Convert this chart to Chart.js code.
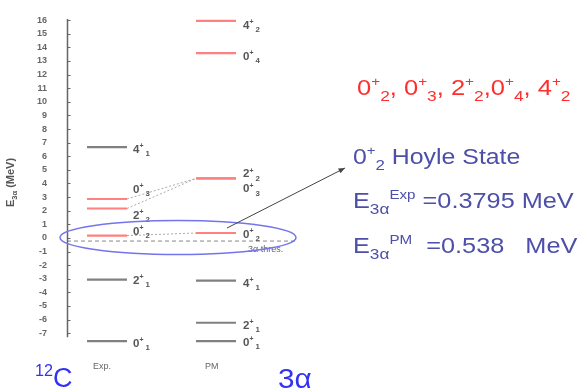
<!DOCTYPE html>
<html>
<head>
<meta charset="utf-8">
<script src="https://cdn.jsdelivr.net/npm/chart.js@4.4.0/dist/chart.umd.min.js"></script>
<style>
  html, body { margin: 0; padding: 0; background: #fff; }
</style>
</head>
<body>
<canvas id="levels" width="581" height="392"></canvas>
<script>
// Energies (MeV)
const expEnergies = [6.67, 2.86, 2.16, 0.17, -3.06, -7.58];
const expSpins = ["4", "0", "2", "0", "2", "0"];
const expIndex = ["1", "3", "2", "2", "1", "1"];
const expMarked = [false, true, true, true, false, false];

const pmEnergies = [15.95, 13.58, 4.37, 4.37, 0.36, -3.14, -6.23, -7.58];
const pmSpins = ["4", "0", "2", "0", "0", "4", "2", "0"];
const pmIndex = ["2", "4", "2", "3", "2", "1", "1", "1"];
const pmMarked = [true, true, true, true, true, false, false, false];

// exp level -> pm level joined by dotted lines
const links = [[1, 3], [2, 2], [3, 4]];

const threshold = -0.23;
const yTicks = [-7, -6, -5, -4, -3, -2, -1, 0, 1, 2, 3, 4, 5, 6, 7, 8, 9, 10, 11, 12, 13, 14, 15, 16];

// layout (x units = px right of the axis)
const EXP_X = [20, 60];
const PM_X = [129, 169];
const expLabelShift = [2, -10, 6, -5, 0, 2];
const pmLabelShift = [4, 3, -5, 10, 1, 2, 2, 1];

const RED = "#ff8080";
const GRAY = "#808080";
const BLUE = "#4d4fa8";
const FONT = "'Liberation Sans', Arial, sans-serif";

function levelSet(e, xr, marked) {
    return {
        data: [{ x: xr[0], y: e }, { x: xr[1], y: e }],
        borderColor: marked ? RED : GRAY,
        borderWidth: 2.2,
        pointRadius: 0,
        fill: false
    };
}

const datasets = [];

expEnergies.forEach((e, i) => datasets.push(levelSet(e, EXP_X, expMarked[i])));
pmEnergies.forEach((e, i) => datasets.push(levelSet(e, PM_X, pmMarked[i])));

links.forEach(l => {
    datasets.push({
        data: [{ x: EXP_X[1], y: expEnergies[l[0]] }, { x: PM_X[0], y: pmEnergies[l[1]] }],
        borderColor: "#aaaaaa",
        borderWidth: 1,
        borderDash: [2, 2],
        pointRadius: 0
    });
});

datasets.push({
    data: [{ x: 0, y: threshold }, { x: 230, y: threshold }],
    borderColor: "#888888",
    borderWidth: 1,
    borderDash: [4, 3],
    pointRadius: 0
});

// text with super/subscripts: parts = [[text, "n"|"sup"|"sub"], ...]
function rich(ctx, parts, x, y, size, color, sx) {
    ctx.save();
    ctx.translate(x, y);
    ctx.scale(sx || 1, 1);
    ctx.fillStyle = color;
    ctx.textBaseline = "alphabetic";
    ctx.textAlign = "left";
    let cx = 0;
    parts.forEach(p => {
        let s = size, dy = 0;
        if (p[1] === "sup") { s = size * 0.6; dy = -size * 0.42; }
        if (p[1] === "sub") { s = size * 0.68; dy = size * 0.28; }
        ctx.font = (p[2] || "") + " " + s + "px " + FONT;
        ctx.fillText(p[0], cx, dy);
        cx += ctx.measureText(p[0]).width;
    });
    ctx.restore();
}

const drawing = {
    id: "drawing",
    afterDatasetsDraw(chart) {
        const ctx = chart.ctx;
        const xs = chart.scales.x, ys = chart.scales.y;
        const px = v => xs.getPixelForValue(v);
        const py = v => ys.getPixelForValue(v);

        // axis line and inner tick marks
        const ax = px(0) + 0.5;
        ctx.save();
        ctx.strokeStyle = "#666";
        ctx.lineWidth = 1.5;
        ctx.beginPath();
        ctx.moveTo(ax, py(16) - 1);
        ctx.lineTo(ax, py(-7.3));
        ctx.stroke();
        ctx.lineWidth = 1;
        yTicks.forEach(t => {
            ctx.beginPath();
            ctx.moveTo(ax, Math.round(py(t)) + 0.5);
            ctx.lineTo(ax + 3, Math.round(py(t)) + 0.5);
            ctx.stroke();
        });
        ctx.restore();

        // axis title
        ctx.save();
        ctx.translate(14, 207);
        ctx.rotate(-Math.PI / 2);
        rich(ctx, [["E", "n", "bold"], ["3\u03b1", "sub", "bold"], [" (MeV)", "n", "bold"]], 0, 0, 11, "#555");
        ctx.restore();

        // level labels
        const lab = (e, spin, idx, xr, shift) => {
            rich(ctx, [[spin, "n", "bold"], ["+", "sup", "bold"], [" " + idx, "sub", "bold"]],
                px(xr), py(e) + shift + 4, 11.5, "#555");
        };
        expEnergies.forEach((e, i) => lab(e, expSpins[i], expIndex[i], 66, expLabelShift[i]));
        pmEnergies.forEach((e, i) => lab(e, pmSpins[i], pmIndex[i], 176, pmLabelShift[i]));

        // threshold label
        ctx.save();
        ctx.font = "9px " + FONT;
        ctx.fillStyle = "#666";
        ctx.fillText("3\u03b1 thres.", px(181), py(threshold) + 11);
        ctx.restore();

        // ellipse round the Hoyle states
        ctx.save();
        ctx.strokeStyle = "#7474ee";
        ctx.lineWidth = 1.5;
        ctx.beginPath();
        ctx.ellipse(px(111), py(0) - 0.5, 118, 17, 0, 0, Math.PI * 2);
        ctx.stroke();
        ctx.restore();

        // arrow to the annotation
        const x0 = px(160), y0 = py(pmEnergies[4]) - 5, x1 = 345, y1 = 168;
        const a = Math.atan2(y1 - y0, x1 - x0);
        ctx.save();
        ctx.strokeStyle = "#444";
        ctx.fillStyle = "#444";
        ctx.lineWidth = 1;
        ctx.beginPath();
        ctx.moveTo(x0, y0);
        ctx.lineTo(x1, y1);
        ctx.stroke();
        ctx.beginPath();
        ctx.moveTo(x1, y1);
        ctx.lineTo(x1 - 7 * Math.cos(a - 0.4), y1 - 7 * Math.sin(a - 0.4));
        ctx.lineTo(x1 - 7 * Math.cos(a + 0.4), y1 - 7 * Math.sin(a + 0.4));
        ctx.closePath();
        ctx.fill();
        ctx.restore();

        // annotations on the right
        const RT = "#ff2e2e";
        rich(ctx, [["0", "n"], ["+", "sup"], ["2", "sub"], [", 0", "n"], ["+", "sup"], ["3", "sub"],
                   [", 2", "n"], ["+", "sup"], ["2", "sub"], [",0", "n"], ["+", "sup"], ["4", "sub"],
                   [", 4", "n"], ["+", "sup"], ["2", "sub"]], 357, 95, 22, RT, 1.16);
        rich(ctx, [["0", "n"], ["+", "sup"], ["2", "sub"], [" Hoyle State", "n"]], 353, 164, 22, BLUE, 1.13);
        rich(ctx, [["E", "n"], ["3\u03b1", "sub"], ["Exp", "sup"], [" =0.3795 MeV", "n"]], 353, 208, 22, BLUE, 1.15);
        rich(ctx, [["E", "n"], ["3\u03b1", "sub"], ["PM", "sup"], ["  =0.538   MeV", "n"]], 353, 253, 22, BLUE, 1.15);

        // column captions
        ctx.save();
        ctx.font = "9px " + FONT;
        ctx.fillStyle = "#666";
        ctx.fillText("Exp.", 93, 369);
        ctx.fillText("PM", 205, 369);
        ctx.restore();
        rich(ctx, [["12", "sup"], ["C", "n"]], 35, 387, 27, "#3232f2");
        rich(ctx, [["3\u03b1", "n"]], 278, 388, 27, "#3232f2", 1.1);
    }
};

new Chart(document.getElementById("levels"), {
    type: "line",
    data: { datasets: datasets },
    options: {
        responsive: false,
        animation: false,
        devicePixelRatio: 1,
        layout: { padding: { top: 10.5, bottom: 47.9, left: 0, right: 0 } },
        plugins: { legend: { display: false }, tooltip: { enabled: false } },
        scales: {
            x: { type: "linear", min: 0, max: 514, display: false },
            y: {
                type: "linear",
                min: -7.8,
                max: 16.2,
                afterBuildTicks: s => { s.ticks = yTicks.map(v => ({ value: v })); },
                afterFit: s => { s.width = 67; },
                grid: { display: false },
                border: { display: false },
                ticks: {
                    autoSkip: false,
                    padding: 12,
                    color: "#666",
                    font: { size: 9, weight: "bold", family: FONT }
                }
            }
        }
    },
    plugins: [drawing]
});
</script>
</body>
</html>
